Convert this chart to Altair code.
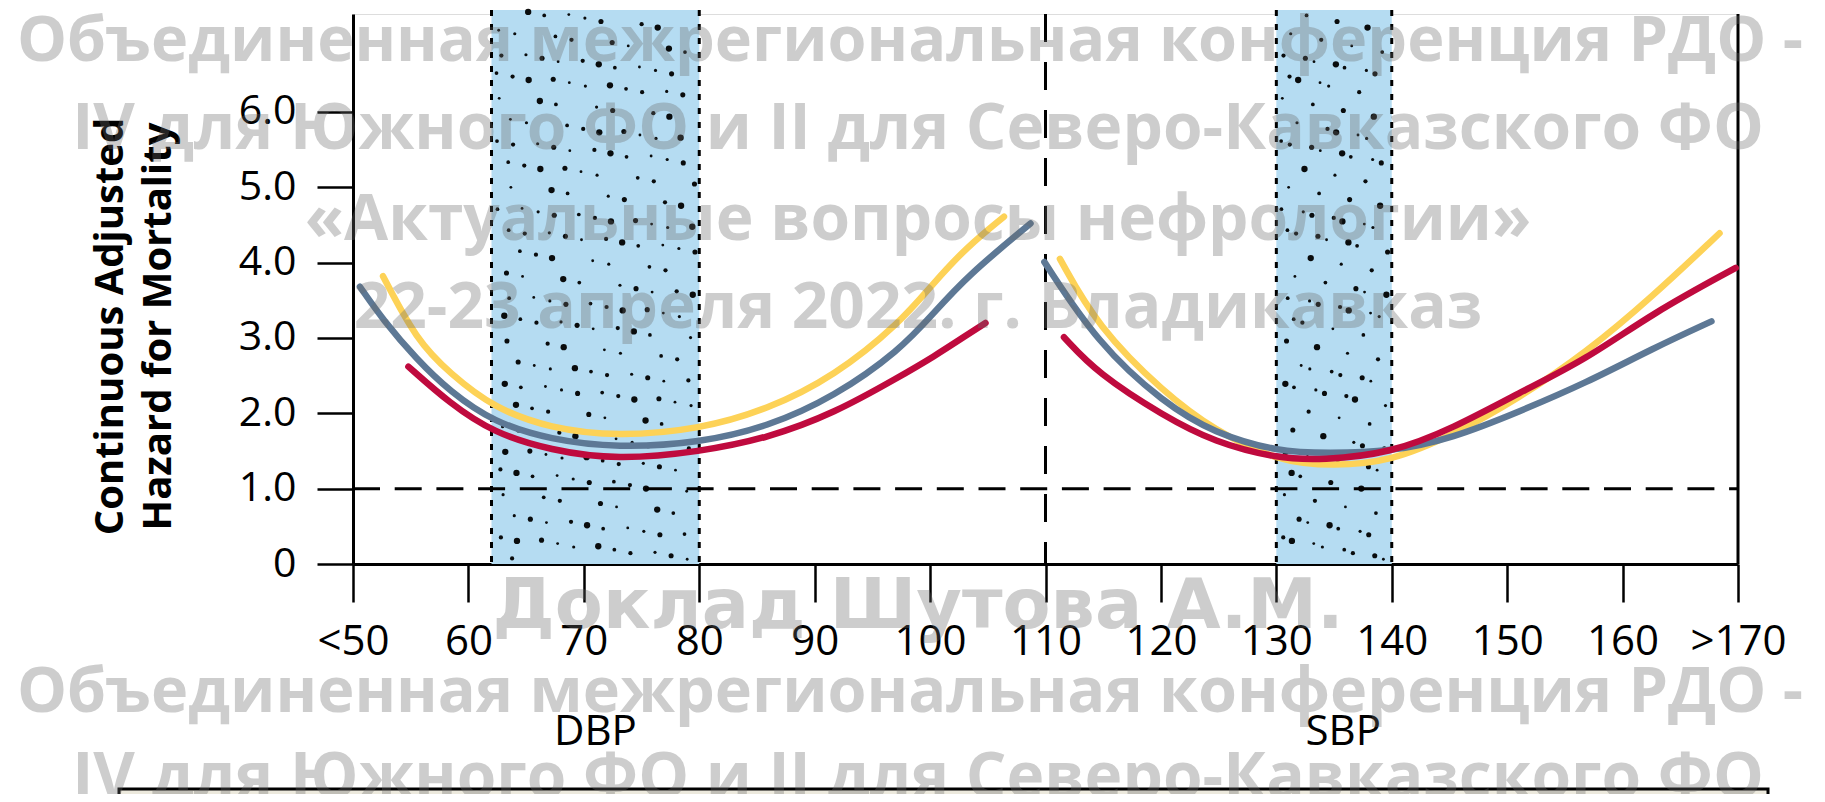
import altair as alt
import pandas as pd

# ---------------- data ----------------
x_ticks = [50, 60, 70, 80, 90, 100, 110, 120, 130, 140, 150, 160, 170]
x_tick_labels = ["<50", "60", "70", "80", "90", "100", "110", "120", "130", "140", "150", "160", ">170"]
y_ticks = [0, 1, 2, 3, 4, 5, 6]
y_tick_labels = ["0", "1.0", "2.0", "3.0", "4.0", "5.0", "6.0"]
y_title = ["Continuous Adjusted", "Hazard for Mortality"]

panel_names = ["DBP", "SBP"]
panel_label_x = [71.0, 135.8]

band_start = [62, 130]
band_end = [80, 140]
ref_hazard = [1.0]
split_x = [110]
right_edge_x = [170]

series_names = ["yellow", "gray", "red"]
series_colors = ["#FDD257", "#5D7895", "#BF0A3E"]

# DBP curves
dbp_yellow_x = [52.6, 55.5, 58.4, 62.2, 67.1, 72.9, 80.1, 85.9, 91.7, 97.4, 100.3, 103.2, 106.4]
dbp_yellow_y = [3.82, 2.97, 2.53, 2.07, 1.80, 1.69, 1.79, 2.05, 2.49, 3.20, 3.73, 4.21, 4.61]
dbp_gray_x = [50.6, 52.6, 55.5, 58.4, 62.2, 67.1, 72.9, 80.1, 85.9, 91.7, 97.4, 100.3, 103.2, 108.7]
dbp_gray_y = [3.68, 3.24, 2.72, 2.29, 1.88, 1.65, 1.54, 1.61, 1.82, 2.22, 2.84, 3.33, 3.82, 4.52]
dbp_red_x = [54.8, 58.4, 62.2, 67.1, 72.9, 80.1, 85.9, 91.7, 97.4, 100.3, 103.2, 104.8]
dbp_red_y = [2.62, 2.13, 1.74, 1.51, 1.38, 1.49, 1.67, 2.00, 2.49, 2.75, 3.04, 3.20]

# SBP curves
sbp_yellow_x = [111.25, 114.5, 120.3, 124.6, 130.1, 135.0, 139.9, 145.3, 151.0, 156.8, 162.6, 168.4]
sbp_yellow_y = [4.05, 3.15, 2.27, 1.78, 1.36, 1.30, 1.36, 1.71, 2.20, 2.80, 3.55, 4.39]
sbp_gray_x = [109.9, 114.5, 120.3, 124.6, 130.1, 134.5, 139.9, 145.3, 151.0, 156.8, 162.6, 167.7]
sbp_gray_y = [4.01, 2.93, 2.13, 1.74, 1.49, 1.47, 1.49, 1.67, 2.02, 2.40, 2.86, 3.22]
sbp_red_x = [111.6, 114.5, 120.3, 124.6, 130.1, 134.0, 139.9, 145.3, 151.0, 156.8, 162.6, 169.8]
sbp_red_y = [3.01, 2.53, 1.96, 1.62, 1.40, 1.38, 1.47, 1.80, 2.27, 2.71, 3.33, 3.93]

watermark_lines = [
    "Объединенная межрегиональная конференция РДО -",
    "IV для Южного ФО и II для Северо-Кавказского ФО",
    "«Актуальные вопросы нефрологии»",
    "22-23 апреля 2022. г. Владикавказ",
    "Доклад Шутова А.М.",
    "Объединенная межрегиональная конференция РДО -",
    "IV для Южного ФО и II для Северо-Кавказского ФО",
]

# ---------------- layout / style ----------------
W, H = 1385, 550
FONT = "Open Sans"
BG = "#DFEFF9"
BAND = "#B5DCF2"

xs = alt.Scale(domain=[50, 170], nice=False, zero=False)
ys = alt.Scale(domain=[0, 7.3], nice=False, zero=True)


def ternary(vals, labels):
    expr = "datum.label"
    for v, l in zip(reversed(vals), reversed(labels)):
        expr = f"datum.value == {v} ? '{l}' : ({expr})"
    return expr


x_axis = alt.Axis(
    values=x_ticks, labelExpr=ternary(x_ticks, x_tick_labels), title=None, grid=False,
    domainColor="black", domainWidth=3, tickColor="black", tickWidth=2.5, tickSize=38,
    labelFont=FONT, labelFontSize=42, labelColor="black", labelPadding=19,
    labelOverlap=False, labelFlush=False, labelBound=False,
)
y_axis = alt.Axis(
    values=y_ticks, labelExpr=ternary(y_ticks, y_tick_labels), title=y_title, grid=False,
    domainColor="black", domainWidth=3, tickColor="black", tickWidth=2.5, tickSize=36,
    labelFont=FONT, labelFontSize=41, labelColor="black", labelPadding=21,
    labelOverlap=False, labelFlush=False, labelBound=False,
    titleFont=FONT, titleFontSize=40, titleFontWeight="bold", titleColor="black",
    titleAngle=270, titleX=-231, titleY=312, titleAlign="center",
    titleBaseline="alphabetic", titleLineHeight=48,
)

X = lambda f: alt.X(f, type="quantitative", scale=xs, axis=x_axis)
Y = lambda f: alt.Y(f, type="quantitative", scale=ys, axis=y_axis)

bands = pd.DataFrame({"x": band_start, "x2": band_end})

band_rect = alt.Chart(bands).mark_rect(color=BAND).encode(
    x=X("x"), x2="x2", y=alt.value(-4), y2=alt.value(H)
)

# decorative stipple texture inside the target bands (deterministic low-discrepancy pattern)
stip = []
a1, a2 = 0.7548776662466927, 0.5698402909980532
for (b0, b1, n) in [(band_start[0], band_end[0], 230), (band_start[1], band_end[1], 130)]:
    for i in range(n):
        u = (0.5 + a1 * (i + 1)) % 1
        v = (0.5 + a2 * (i + 1)) % 1
        stip.append({"x": b0 + 0.35 + u * (b1 - b0 - 0.7), "y": 0.04 + v * 7.3,
                     "s": [8, 14, 26, 40, 10, 18][i % 6]})
stipple = alt.Chart(pd.DataFrame(stip)).mark_circle(color="black", opacity=0.95).encode(
    x=X("x"), y=Y("y"), size=alt.Size("s:Q", scale=None, legend=None)
)

band_edges = alt.Chart(pd.DataFrame({"x": band_start + band_end})).mark_rule(
    color="black", strokeWidth=3, strokeDash=[6, 8]
).encode(x=X("x"), y=alt.value(-4), y2=alt.value(H))

hline = alt.Chart(pd.DataFrame({"y": ref_hazard})).mark_rule(
    color="black", strokeWidth=3, strokeDash=[27, 14.7]
).encode(y=Y("y"), x=alt.value(0), x2=alt.value(W))

vline = alt.Chart(pd.DataFrame({"x": split_x})).mark_rule(
    color="black", strokeWidth=3, strokeDash=[28, 20]
).encode(x=X("x"), y=alt.value(0), y2=alt.value(H))

redge = alt.Chart(pd.DataFrame({"x": right_edge_x})).mark_rule(
    color="black", strokeWidth=3
).encode(x=X("x"), y=alt.value(0), y2=alt.value(H))

curve_sets = {
    "yellow": [(dbp_yellow_x, dbp_yellow_y, "DBP"), (sbp_yellow_x, sbp_yellow_y, "SBP")],
    "gray": [(dbp_gray_x, dbp_gray_y, "DBP"), (sbp_gray_x, sbp_gray_y, "SBP")],
    "red": [(dbp_red_x, dbp_red_y, "DBP"), (sbp_red_x, sbp_red_y, "SBP")],
}

line_layers = []
for name, color in zip(series_names, series_colors):
    rows = []
    for xv, yv, panel in curve_sets[name]:
        for i, (a, b) in enumerate(zip(xv, yv)):
            rows.append({"x": a, "y": b, "panel": panel, "i": i})
    line_layers.append(
        alt.Chart(pd.DataFrame(rows)).mark_line(
            color=color, strokeWidth=6.5, strokeCap="round", interpolate="basis"
        ).encode(x=X("x"), y=Y("y"), detail="panel:N", order="i:Q")
    )

panel_text = alt.Chart(pd.DataFrame({"label": panel_names, "x": panel_label_x})).mark_text(
    font=FONT, fontSize=42, fontWeight=500, color="black", baseline="alphabetic", align="center"
).encode(x=X("x"), y=alt.value(731), text="label:N")

# watermark overlay (page-centred text lines)
wm_x = [557, 565, 565, 565, 565, 557, 565]
wm_y = [47, 135, 226, 314, 614, 698, 784]
wm_size = [63, 64, 64, 64, 70, 63, 64]
wm_font = [FONT, FONT, FONT, FONT, "DejaVu Sans", FONT, FONT]
wm_layers = []
for t, xx, yy, fs, ff in zip(watermark_lines, wm_x, wm_y, wm_size, wm_font):
    wm_layers.append(
        alt.Chart(pd.DataFrame({"t": [t]})).mark_text(
            font=ff, fontSize=fs, fontWeight="bold", color="#6a6a6a", opacity=0.33,
            align="center", baseline="alphabetic"
        ).encode(text="t:N", x=alt.value(xx), y=alt.value(yy))
    )

# framed box at the bottom of the slide
box = alt.Chart(pd.DataFrame({"k": [0]})).mark_rect(
    fill="#ECE9DD", stroke="black", strokeWidth=3
).encode(x=alt.value(-234), x2=alt.value(1415), y=alt.value(775), y2=alt.value(840))

chart = alt.layer(
    band_rect, stipple, band_edges, hline, vline, redge,
    *line_layers, panel_text, box, *wm_layers
).properties(
    width=W, height=H,
    autosize=alt.AutoSizeParams(type="none"),
    padding={"left": 345, "top": 6, "right": 79, "bottom": 230},
).configure_view(fill=BG, stroke="transparent").configure(background="white")

chart.save("out.html", embed_options={"renderer": "svg", "actions": False})
